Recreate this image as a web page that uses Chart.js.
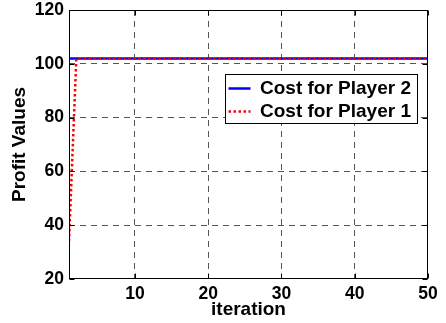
<!DOCTYPE html>
<html>
<head>
<meta charset="utf-8">
<script src="https://cdn.jsdelivr.net/npm/chart.js@4/dist/chart.umd.min.js"></script>
<style>
  html, body { margin: 0; padding: 0; background: #fff; }
  canvas { display: block; }
</style>
</head>
<body>
<canvas id="chart" width="446" height="323"></canvas>
<script>
// Iteration index (x axis)
const iterations = [1, 2, 3, 4, 5, 6, 7, 8, 9, 10,
  11, 12, 13, 14, 15, 16, 17, 18, 19, 20,
  21, 22, 23, 24, 25, 26, 27, 28, 29, 30,
  31, 32, 33, 34, 35, 36, 37, 38, 39, 40,
  41, 42, 43, 44, 45, 46, 47, 48, 49, 50];

// Profit value per iteration for each player
const player2Cost = [102, 102, 102, 102, 102, 102, 102, 102, 102, 102,
  102, 102, 102, 102, 102, 102, 102, 102, 102, 102,
  102, 102, 102, 102, 102, 102, 102, 102, 102, 102,
  102, 102, 102, 102, 102, 102, 102, 102, 102, 102,
  102, 102, 102, 102, 102, 102, 102, 102, 102, 102];
const player1Cost = [34, 102, 102, 102, 102, 102, 102, 102, 102, 102,
  102, 102, 102, 102, 102, 102, 102, 102, 102, 102,
  102, 102, 102, 102, 102, 102, 102, 102, 102, 102,
  102, 102, 102, 102, 102, 102, 102, 102, 102, 102,
  102, 102, 102, 102, 102, 102, 102, 102, 102, 102];

const seriesNames = ['Cost for Player 2', 'Cost for Player 1'];
const xTickValues = [10, 20, 30, 40, 50];
const yTickValues = [20, 40, 60, 80, 100, 120];

const toPoints = (ys) => iterations.map((x, i) => ({ x: x, y: ys[i] }));

const FONT = '"Liberation Sans", Arial, Helvetica, sans-serif';
const GRID_COLOR = '#555555';
const LEGEND_BOX = { left: 225, top: 74, width: 192, height: 49 };

// Box around the axes with inward tick marks on all four sides,
// plus the framed legend drawn over the grid.
const axesBox = {
  id: 'axesBox',
  beforeDraw(chart) {
    const lg = chart.legend;
    lg.left = LEGEND_BOX.left - 0.5;
    lg.top = LEGEND_BOX.top + 1;
    lg.right = LEGEND_BOX.left + LEGEND_BOX.width;
    lg.bottom = LEGEND_BOX.top + 200;
    lg.width = lg.right - lg.left;
    lg.height = lg.bottom - lg.top;
  },
  afterDraw(chart) {
    const { ctx, chartArea: a, scales: { x, y } } = chart;
    const L = Math.round(a.left) + 0.5, R = Math.round(a.right) - 0.5;
    const T = Math.round(a.top) + 0.5, B = Math.round(a.bottom) - 0.5;
    const tl = 5;
    ctx.save();
    ctx.strokeStyle = '#000';
    ctx.lineWidth = 1;
    ctx.setLineDash([]);
    ctx.strokeRect(L, T, R - L, B - T);
    ctx.beginPath();
    xTickValues.forEach(v => {
      const px = Math.round(x.getPixelForValue(v)) + 0.5;
      ctx.moveTo(px, B); ctx.lineTo(px, B - tl);
      ctx.moveTo(px, T); ctx.lineTo(px, T + tl);
    });
    yTickValues.forEach(v => {
      const py = Math.round(y.getPixelForValue(v)) + 0.5;
      ctx.moveTo(L, py); ctx.lineTo(L + tl, py);
      ctx.moveTo(R, py); ctx.lineTo(R - tl, py);
    });
    ctx.stroke();

    // legend frame on a white background
    ctx.fillStyle = '#fff';
    ctx.fillRect(LEGEND_BOX.left, LEGEND_BOX.top, LEGEND_BOX.width, LEGEND_BOX.height);
    ctx.strokeRect(LEGEND_BOX.left + 0.5, LEGEND_BOX.top + 0.5, LEGEND_BOX.width, LEGEND_BOX.height);
    ctx.restore();
    chart.legend.draw();
  }
};

new Chart(document.getElementById('chart'), {
  type: 'line',
  data: {
    datasets: [
      {
        label: seriesNames[0],
        data: toPoints(player2Cost),
        borderColor: '#0000ff',
        backgroundColor: '#0000ff',
        borderWidth: 2.5,
        pointRadius: 0,
        pointStyle: 'line',
        tension: 0,
        order: 1
      },
      {
        label: seriesNames[1],
        data: toPoints(player1Cost),
        borderColor: '#ff0000',
        backgroundColor: '#ff0000',
        borderWidth: 2.5,
        borderDash: [2.5, 2.5],
        pointRadius: 0,
        pointStyle: 'line',
        tension: 0,
        order: 0
      }
    ]
  },
  options: {
    responsive: false,
    animation: false,
    events: [],
    layout: { padding: { left: 0, right: 18, top: 10, bottom: 0 } },
    font: { family: FONT },
    plugins: {
      tooltip: { enabled: false },
      legend: {
        position: 'chartArea',
        align: 'start',
        labels: {
          font: { family: FONT, size: 19, weight: 'bold' },
          color: '#000',
          usePointStyle: true,
          pointStyle: 'line',
          pointStyleWidth: 22,
          boxHeight: 19,
          padding: 4,
          sort: (a, b) => a.datasetIndex - b.datasetIndex,
          // legend samples use each series' own line colour, width and dash
          generateLabels: (chart) =>
            Chart.defaults.plugins.legend.labels.generateLabels(chart).map(item => {
              const ds = chart.data.datasets[item.datasetIndex];
              item.strokeStyle = ds.borderColor;
              item.lineWidth = ds.borderWidth;
              item.lineDash = ds.borderDash || [];
              item.lineCap = 'butt';
              return item;
            })
        }
      }
    },
    scales: {
      x: {
        type: 'linear',
        min: 1,
        max: 50,
        afterBuildTicks: (s) => { s.ticks = xTickValues.map(v => ({ value: v })); },
        afterFit: (s) => { s.height = 44; s.paddingLeft = 0; s.paddingRight = 0; },
        grid: {
          drawTicks: false,
          color: (c) => (c.tick && c.tick.value === 50) ? 'rgba(0,0,0,0)' : GRID_COLOR,
          lineWidth: 1
        },
        border: { display: false, dash: [6, 5] },
        ticks: {
          padding: 5,
          maxRotation: 0,
          color: '#000',
          font: { family: FONT, size: 17.5, weight: 'bold' }
        },
        title: {
          display: true,
          text: 'iteration',
          color: '#000',
          font: { family: FONT, size: 19, weight: 'bold' },
          padding: { top: 0, bottom: 2 }
        }
      },
      y: {
        min: 20,
        max: 120,
        afterBuildTicks: (s) => { s.ticks = yTickValues.map(v => ({ value: v })); },
        afterFit: (s) => { s.width = 69; s.paddingTop = 0; s.paddingBottom = 0; },
        grid: {
          drawTicks: false,
          color: (c) => (c.tick && (c.tick.value === 20 || c.tick.value === 120)) ? 'rgba(0,0,0,0)' : GRID_COLOR,
          lineWidth: 1
        },
        border: { display: false, dash: [6, 5] },
        ticks: {
          padding: 5,
          color: '#000',
          font: { family: FONT, size: 17.5, weight: 'bold' }
        },
        title: {
          display: true,
          text: 'Profit Values',
          color: '#000',
          font: { family: FONT, size: 19, weight: 'bold' },
          padding: { top: 8, bottom: 0 }
        }
      }
    }
  },
  plugins: [axesBox]
});
</script>
</body>
</html>
